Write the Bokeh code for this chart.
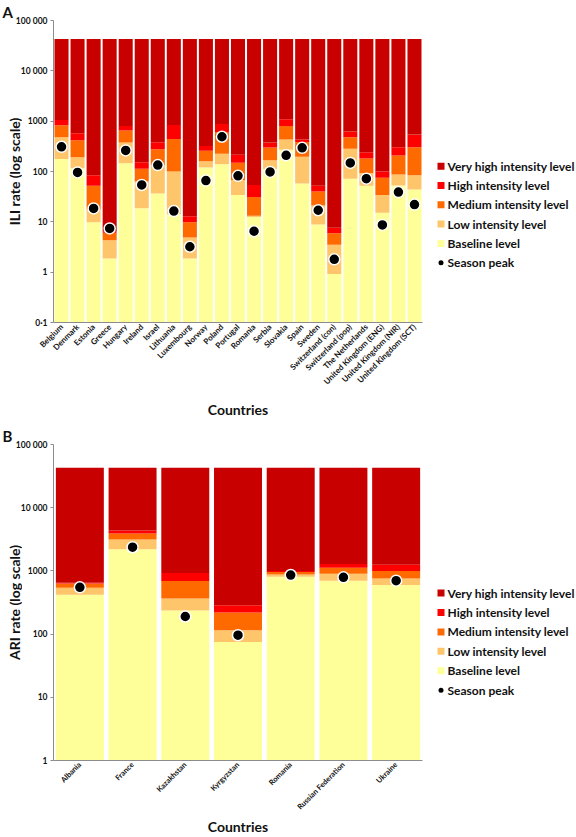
from bokeh.plotting import figure
from bokeh.models import FactorRange, Range1d, FixedTicker, ColumnDataSource
from bokeh.layouts import column, row
from bokeh.core.properties import value
from bokeh.embed import file_html
from bokeh.resources import INLINE
import math

# ---------------- Panel A data (ILI) ----------------
countries_a = ["Belgium", "Denmark", "Estonia", "Greece", "Hungary", "Ireland", "Israel",
               "Lithuania", "Luxembourg", "Norway", "Poland", "Portugal", "Romania", "Serbia",
               "Slovakia", "Spain", "Sweden", "Switzerland (con)", "Switzerland (pop)",
               "The Netherlands", "United Kingdom (ENG)", "United Kingdom (NIR)",
               "United Kingdom (SCT)"]
baseline_a = [178, 116, 9.8, 1.86, 146, 18.7, 36.5, 14.1, 1.86, 120, 140, 34, 12.5, 112,
              270, 58, 8.9, 0.92, 72, 52, 15.2, 53, 44]
low_a = [480, 192, 17.5, 4.3, 377, 63, 134, 100, 4.9, 160, 226, 68, 13.2, 167,
         430, 197, 21, 3.5, 282, 93, 34, 87, 84]
medium_a = [830, 420, 52, 6.1, 650, 113, 277, 442, 9.8, 258, 610, 150, 31, 300,
            800, 385, 40, 5.9, 478, 182, 75, 209, 303]
high_a = [1050, 575, 84, 6.4, 800, 152, 382, 840, 12.9, 322, 877, 214, 54, 377,
          1090, 430, 52, 7.6, 620, 240, 100, 303, 542]
peak_a = [310, 96, 18.5, 7.4, 262, 54, 134, 16.4, 3.2, 66, 490, 82, 6.5, 98,
          210, 295, 17, 1.8, 148, 72, 8.7, 39, 22]
veryhigh_top_a = 43000
ymin_a = 0.1
yticks_a = [0.1, 1, 10, 100, 1000, 10000, 100000]
ytick_labels_a = ["0·1", "1", "10", "100", "1000", "10 000", "100 000"]

# ---------------- Panel B data (ARI) ----------------
countries_b = ["Albania", "France", "Kazakhstan", "Kyrgyzstan", "Romania",
               "Russian Federation", "Ukraine"]
baseline_b = [420, 2200, 237, 75, 810, 700, 600]
low_b = [540, 3150, 365, 115, 880, 900, 760]
medium_b = [630, 3900, 690, 220, 960, 1120, 1000]
high_b = [650, 4350, 930, 285, 1000, 1290, 1250]
peak_b = [550, 2370, 190, 96, 860, 790, 700]
veryhigh_top_b = 43000
ymin_b = 1
yticks_b = [1, 10, 100, 1000, 10000, 100000]
ytick_labels_b = ["1", "10", "100", "1000", "10 000", "100 000"]

level_names = ["Very high intensity level", "High intensity level", "Medium intensity level",
               "Low intensity level", "Baseline level", "Season peak"]
level_colors = ["#C80000", "#FF0000", "#FF6A00", "#FFC56B", "#FFFF99"]

FONT = "Lato"
TEXT_COLOR = "#111111"
LEFT_W = 22
OVERLAP = 13
MAIN_BORDER_L = 44
FRAME_W = 369
MAIN_BORDER_R = 5
MAIN_W = MAIN_BORDER_L + FRAME_W + MAIN_BORDER_R
LEG_W = 576 - LEFT_W + OVERLAP - MAIN_W


def bare_fig(w, h, top, bottom):
    # data coordinates equal pixel positions inside the row (y grows downwards)
    f = figure(width=w, height=h, x_range=Range1d(0, w), y_range=Range1d(h - bottom, top),
               min_border_left=0, min_border_right=0, min_border_top=top,
               min_border_bottom=bottom, x_axis_location=None, y_axis_location=None,
               toolbar_location=None, output_backend="svg")
    f.outline_line_color = None
    f.grid.visible = False
    return f


def make_main(countries, base, low, med, high, peak, vtop, ymin, yticks, ylabels,
              height, min_top, min_bottom, bar_w, xfont, xlabel_standoff):
    n = len(countries)
    src = ColumnDataSource(dict(
        x=countries, floor=[ymin] * n, base=base, low=low, med=med, high=high,
        top=[vtop] * n, peak=peak))
    p = figure(x_range=FactorRange(*countries, range_padding=0),
               y_axis_type="log", y_range=Range1d(ymin, 100000),
               width=MAIN_W, height=height, output_backend="svg", toolbar_location=None,
               min_border_left=MAIN_BORDER_L, min_border_right=MAIN_BORDER_R,
               min_border_top=min_top, min_border_bottom=min_bottom)
    p.outline_line_color = None
    p.border_fill_color = None
    p.grid.visible = False
    p.margin = (0, 0, 0, -OVERLAP)

    stack = ["floor", "base", "low", "med", "high", "top"]
    fills = level_colors[::-1]
    for i in range(5):
        p.vbar(x="x", bottom=stack[i], top=stack[i + 1], width=bar_w, source=src,
               fill_color=fills[i], line_color=None)
    p.scatter(x="x", y="peak", source=src, size=11, fill_color="black",
              line_color="white", line_width=1.5)

    ya = p.yaxis[0]
    ya.ticker = FixedTicker(ticks=yticks)
    ya.major_label_overrides = {t: s for t, s in zip(yticks, ylabels)}
    ya.major_label_text_font = FONT
    ya.major_label_text_font_style = "bold"
    ya.major_label_text_font_size = "8.5px"
    ya.major_label_text_color = TEXT_COLOR
    ya.major_label_standoff = 3
    ya.major_tick_out = 3
    ya.major_tick_in = 0
    ya.minor_tick_out = 0
    ya.minor_tick_in = 0
    ya.axis_line_color = "#8C8C8C"
    ya.major_tick_line_color = "#8C8C8C"

    xa = p.xaxis[0]
    xa.major_label_orientation = math.pi / 4
    xa.major_label_text_font = FONT
    xa.major_label_text_font_style = "bold"
    xa.major_label_text_font_size = xfont
    xa.major_label_text_color = TEXT_COLOR
    xa.major_label_standoff = 3
    xa.major_tick_out = 0
    xa.major_tick_in = 0
    xa.axis_line_color = "#8C8C8C"
    xa.axis_label = "Countries"
    xa.axis_label_text_font = FONT
    xa.axis_label_text_font_style = "bold"
    xa.axis_label_text_font_size = "14px"
    xa.axis_label_text_color = TEXT_COLOR
    xa.axis_label_standoff = xlabel_standoff
    return p


def make_left(height, top, bottom, letter, ylabel):
    f = bare_fig(LEFT_W, height, top, bottom)
    f.title.text = letter
    f.title.align = "left"
    f.title.offset = 2
    f.title.standoff = 0
    f.title.text_font = FONT
    f.title.text_font_style = "bold"
    f.title.text_font_size = "15px"
    f.title.text_color = TEXT_COLOR
    f.text(x=[13.5], y=[top + (height - top - bottom) / 2], text=[ylabel], angle=math.pi / 2,
           text_font=value(FONT), text_font_style="bold", text_font_size=value("14px"),
           text_color=TEXT_COLOR, text_baseline="middle", text_align="center")
    return f


def make_legend(height, top, bottom, first_y, step):
    f = bare_fig(LEG_W, height, top, bottom)
    ys = [first_y + step * i for i in range(len(level_names))]
    f.scatter(x=[13.5] * 5, y=ys[:5], marker="square", size=7,
              fill_color=level_colors, line_color=None)
    f.scatter(x=[13.5], y=[ys[5]], marker="circle", size=5, fill_color="black",
              line_color=None)
    f.text(x=[20] * 6, y=ys, text=level_names, text_font=value(FONT),
           text_font_style="bold", text_font_size=value("12px"), text_color=TEXT_COLOR,
           text_baseline="middle", text_align="left")
    return f


H1, H2 = 420, 417
T1, B1 = 16, 91
T2, B2 = 24, 74
pa = make_main(countries_a, baseline_a, low_a, medium_a, high_a, peak_a, veryhigh_top_a,
               ymin_a, yticks_a, ytick_labels_a, H1, T1, B1, 0.875, "8px", 8)
pb = make_main(countries_b, baseline_b, low_b, medium_b, high_b, peak_b, veryhigh_top_b,
               ymin_b, yticks_b, ytick_labels_b, H2, T2, B2, 0.91, "7.5px", 0)

la = make_left(H1, T1, B1, "A", "ILI rate (log scale)")
lb = make_left(H2, T2, B2, "B", "ARI rate (log scale)")
ga = make_legend(H1, T1, B1, 167, 20)
gb = make_legend(H2, T2, B2, 174, 19.6)

layout = column(row(la, pa, ga, spacing=0), row(lb, pb, gb, spacing=0), spacing=0)
open("out.html", "w").write(file_html(layout, INLINE))
